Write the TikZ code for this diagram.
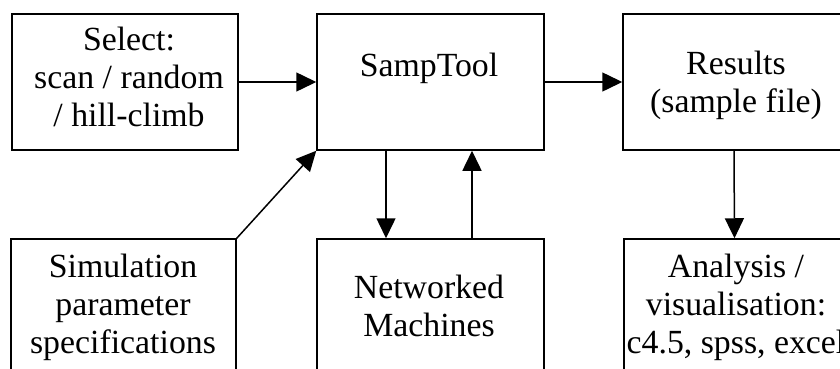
\documentclass[tikz,border=0pt]{standalone}
\usepackage{fontspec}
\setmainfont{Liberation Serif}
\usetikzlibrary{arrows.meta}
\begin{document}
\begin{tikzpicture}[x=1pt,y=-1pt,
  box/.style={draw, line width=1.5pt, inner sep=0pt, minimum height=136pt},
  % texts are placed by the baseline of their last line
  boxtext/.style={align=center, anchor=base, inner sep=0pt,
    font=\fontsize{33.8}{38}\selectfont},
  arr/.style={line width=1.5pt, -{Triangle[length=20pt,width=19pt]}}]
\clip (0,0) rectangle (840,369);

% upper row
\node[box, minimum width=226pt] (sel)  at (125,82)    {};
\node[box, minimum width=227pt] (samp) at (430.5,82)  {};
\node[box, minimum width=222pt] (res)  at (734,82)    {};
% lower row (runs past the lower edge)
\node[box, minimum width=225pt] (sim)  at (123.5,307) {};
\node[box, minimum width=227pt] (net)  at (430.5,307) {};
\node[box, minimum width=221pt] (ana)  at (734.5,307) {};

% box texts
\node[boxtext] (selT)  at (129,126) {Select:\\scan / random\\/ hill-climb};
\node[boxtext] (sampT) at (429,76)  {SampTool};
\node[boxtext] (resT)  at (736,112) {Results\\(sample file)};
\node[boxtext] (simT)  at (123,353) {Simulation\\parameter\\specifications};
\node[boxtext] (netT)  at (429,336) {Networked\\Machines};
\node[boxtext] (anaT)  at (736,353) {Analysis /\\visualisation:\\c4.5, spss, excel};

% connectors
\draw[arr] (sel.east) -- (samp.west);
\draw[arr] (samp.east) -- (res.west);
\draw[arr] (res.south) -- (ana.north);
\draw[arr] ([xshift=-44.5pt]samp.south) -- ([xshift=-44.5pt]net.north);
\draw[arr] ([xshift=41.5pt]net.north) -- ([xshift=41.5pt]samp.south);
\draw[arr] (sim.north east) -- (samp.south west);
\end{tikzpicture}
\end{document}
